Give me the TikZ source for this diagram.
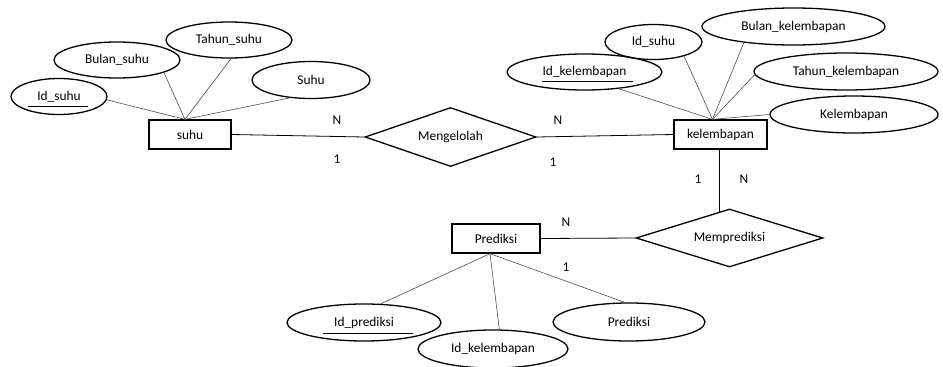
\documentclass[tikz,border=0pt]{standalone}
\usepackage{fontspec}
\setmainfont{Carlito}
\usetikzlibrary{shapes.geometric,calc}
\begin{document}
\begin{tikzpicture}[x=1pt,y=-1pt,
  every node/.style={font=\fontsize{13.4}{16}\selectfont, inner sep=0pt},
  attr/.style 2 args={ellipse, draw, line width=1.3pt, minimum width=#1, minimum height=#2},
  entity/.style 2 args={rectangle, draw, line width=1.3pt, minimum width=#1, minimum height=#2},
  rel/.style 2 args={diamond, draw, line width=1.3pt, aspect=3, minimum width=#1, minimum height=#2},
  aline/.style={draw=black!70, line width=0.6pt},
  rline/.style={draw=black, line width=0.8pt},
  uline/.style={draw=black, line width=1pt}]
\useasboundingbox (0,0) rectangle (943,367);

% suhu entity and attributes
\node[entity={82}{29}] (suhu) at (190,134.5) {suhu};
\node[attr={96}{36}] (idsuhuA) at (59,96.5) {Id\_suhu};
\node[attr={126}{36}] (bulansuhu) at (117,60) {Bulan\_suhu};
\node[attr={126}{36}] (tahunsuhu) at (229,40) {Tahun\_suhu};
\node[attr={118}{37}] (suhuattr) at (311,80) {Suhu};
\coordinate (sJ) at ($(suhu.north)+(-5,0)$);
\draw[uline] ($(idsuhuA.center)+(-31,9.5)$) -- ($(idsuhuA.center)+(29,9.5)$);
\draw[aline] (idsuhuA.-4) -- (sJ);
\draw[aline] (bulansuhu.-15) -- (sJ);
\draw[aline] (tahunsuhu.-84) -- (sJ);
\draw[aline] (suhuattr.-140) -- (sJ);

% Mengelolah
\node[rel={171}{59}] (meng) at (450.5,137) {Mengelolah};

% kelembapan entity and attributes
\node[entity={93}{29}] (kel) at (720.5,134.5) {kelembapan};
\node[attr={155}{36}] (idkel) at (584.5,72) {Id\_kelembapan};
\node[attr={97}{35}] (idsuhuB) at (653.5,42) {Id\_suhu};
\node[attr={183}{37}] (bulankel) at (793.5,26.5) {Bulan\_kelembapan};
\node[attr={184}{37}] (tahunkel) at (846,71.5) {Tahun\_kelembapan};
\node[attr={168}{37}] (kelattr) at (854,114.5) {Kelembapan};
\coordinate (kJ) at ($(kel.north)+(-8,0)$);
\draw[uline] ($(idkel.center)+(-42.5,9)$) -- ($(idkel.center)+(48.5,9)$);
\draw[aline] (idkel.-26) -- (kJ);
\draw[aline] (idsuhuB.-25) -- (kJ);
\draw[aline] (bulankel.-162) -- (kJ);
\draw[aline] (tahunkel.-178) -- (kJ);
\draw[aline] (kelattr.180) -- (kJ);

% relationship lines
\draw[rline] (suhu.east) -- (meng.west);
\draw[rline] (meng.east) -- (kel.west);
\node (n1) at (337,120) {N};
\node (o1) at (337,159) {1};
\node (n2) at (558,120) {N};
\node (o2) at (553,162) {1};

% Memprediksi and Prediksi
\node[rel={187}{58}] (mpred) at (729.5,238) {Memprediksi};
\node[entity={88}{29}] (pred) at (496,238.5) {Prediksi};
\coordinate (mpTop) at ($(mpred.north)!0.11!(mpred.west)$);
\draw[rline] (kel.south -| mpTop) -- (mpTop);
\draw[rline] (pred.east) -- (mpred.west);
\node (o3) at (698,179) {1};
\node (n3) at (744,179) {N};
\node (n4) at (566,222) {N};
\node (o4) at (566,267) {1};

% Prediksi attributes
\node[attr={154}{37}] (idpred) at (364,322.5) {Id\_prediksi};
\node[attr={150}{38}] (idkelB) at (493,349) {Id\_kelembapan};
\node[attr={152}{38}] (predattr) at (629,322) {Prediksi};
\coordinate (pJ) at ($(pred.south)+(-6,0)$);
\draw[uline] ($(idpred.center)+(-41,10.5)$) -- ($(idpred.center)+(49,10.5)$);
\draw[aline] (idpred.48) -- (pJ);
\draw[aline] (idkelB.72) -- (pJ);
\draw[aline] (predattr.102) -- (pJ);
\end{tikzpicture}
\end{document}
